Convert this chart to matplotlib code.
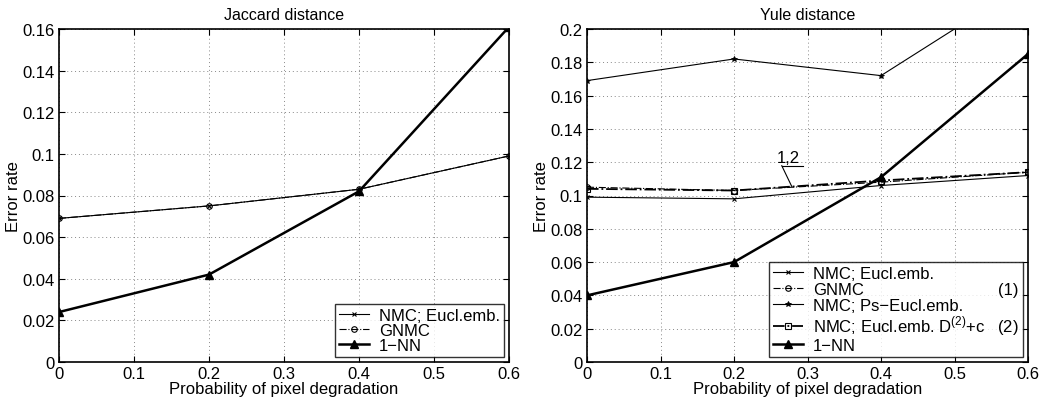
import numpy as np
import matplotlib.pyplot as plt

plt.rcParams['font.family'] = ['Liberation Sans', 'DejaVu Sans']
plt.rcParams['mathtext.fontset'] = 'custom'
plt.rcParams['mathtext.rm'] = 'Liberation Sans'

prob = [0, 0.2, 0.4, 0.6]

# Jaccard distance
jac_nmc = [0.069, 0.075, 0.083, 0.099]
jac_gnmc = [0.069, 0.075, 0.083, 0.099]
jac_1nn = [0.024, 0.042, 0.082, 0.161]

# Yule distance
yule_nmc = [0.099, 0.098, 0.106, 0.112]
yule_gnmc = [0.105, 0.103, 0.108, 0.114]
yule_ps = [0.169, 0.182, 0.172, 0.228]
yule_d2c = [0.104, 0.103, 0.109, 0.114]
yule_1nn = [0.040, 0.060, 0.111, 0.185]

FS = 12

fig = plt.figure(figsize=(10.52, 4.02), dpi=100)
ax1 = fig.add_axes([59/1052, 39/402, 450/1052, 333/402])
ax2 = fig.add_axes([587/1052, 39/402, 441/1052, 333/402])


def style(ax, ymax, step):
    ax.set_xlim(0, 0.6)
    ax.set_ylim(0, ymax)
    ax.set_xticks(np.arange(0, 0.61, 0.1))
    ax.set_xticklabels(['0', '0.1', '0.2', '0.3', '0.4', '0.5', '0.6'])
    yt = np.arange(0, ymax + 1e-9, step)
    ax.set_yticks(yt)
    ax.set_yticklabels(['0' if v == 0 else ('%g' % round(v, 2)) for v in yt])
    ax.grid(True, linestyle=(0, (1, 3)), color='#888888', linewidth=0.7)
    ax.tick_params(direction='in', labelsize=FS, length=4, width=0.8,
                   top=True, right=True, pad=3)
    for s in ax.spines.values():
        s.set_linewidth(1.2)
    ax.set_xlabel('Probability of pixel degradation', fontsize=FS, labelpad=0)
    ax.set_ylabel('Error rate', fontsize=FS, labelpad=1)


legend_kw = dict(loc='lower right', fontsize=FS, frameon=True, fancybox=False,
                 edgecolor='black', handlelength=1.8, borderaxespad=0.3,
                 handletextpad=0.6, borderpad=0.25)

# left panel
ax1.plot(prob, jac_nmc, color='black', lw=0.8, marker='x', ms=3, mew=0.8,
         label='NMC; Eucl.emb.')
ax1.plot(prob, jac_gnmc, color='black', lw=0.8, ls='-.', marker='o', ms=4,
         mfc='none', mew=0.8, label='GNMC')
ax1.plot(prob, jac_1nn, color='black', lw=1.8, marker='^', ms=6,
         label='1\u2212NN')
style(ax1, 0.16, 0.02)
ax1.set_title('Jaccard distance', fontsize=11.5, pad=7)
leg1 = ax1.legend(labelspacing=0.0, **legend_kw)
leg1.get_frame().set_linewidth(1.0)

# right panel
ax2.plot(prob, yule_nmc, color='black', lw=0.8, marker='x', ms=3, mew=0.8,
         label='NMC; Eucl.emb.')
ax2.plot(prob, yule_gnmc, color='black', lw=0.8, ls='-.', marker='o', ms=4,
         mfc='none', mew=0.8, label='GNMC')
ax2.plot(prob, yule_ps, color='black', lw=0.8, marker='*', ms=4, mew=0.6,
         label='NMC; Ps\u2212Eucl.emb.')
ax2.plot(prob, yule_d2c, color='black', lw=1.3, ls='-.', marker='s', ms=4,
         mfc='none', mew=0.8, label='NMC; Eucl.emb. D$^{(2)}$+c   (2)')
ax2.plot(prob, yule_1nn, color='black', lw=1.8, marker='^', ms=6,
         label='1\u2212NN')
style(ax2, 0.2, 0.02)
ax2.set_title('Yule distance', fontsize=11.5, pad=7)
leg2 = ax2.legend(labelspacing=0.05, **legend_kw)
leg2.get_frame().set_linewidth(1.0)

# "(1)" tag on the GNMC row, right aligned with "(2)"
fig.canvas.draw()
inv = fig.transFigure.inverted()
t_gnmc = leg2.get_texts()[1].get_window_extent()
t_d2 = leg2.get_texts()[3].get_window_extent()
x1, y1 = inv.transform((t_d2.x1, (t_gnmc.y0 + t_gnmc.y1) / 2))
fig.text(x1, y1, '(1)', fontsize=FS, ha='right', va='center')

# "1,2" annotation
ax2.plot([0.265, 0.294], [0.1179, 0.1179], color='black', lw=0.8)
ax2.plot([0.265, 0.2785], [0.1179, 0.1055], color='black', lw=0.8)
ax2.text(0.2735, 0.1185, '1,2', fontsize=FS, ha='center', va='bottom')

fig.savefig('out.png', dpi=100)
